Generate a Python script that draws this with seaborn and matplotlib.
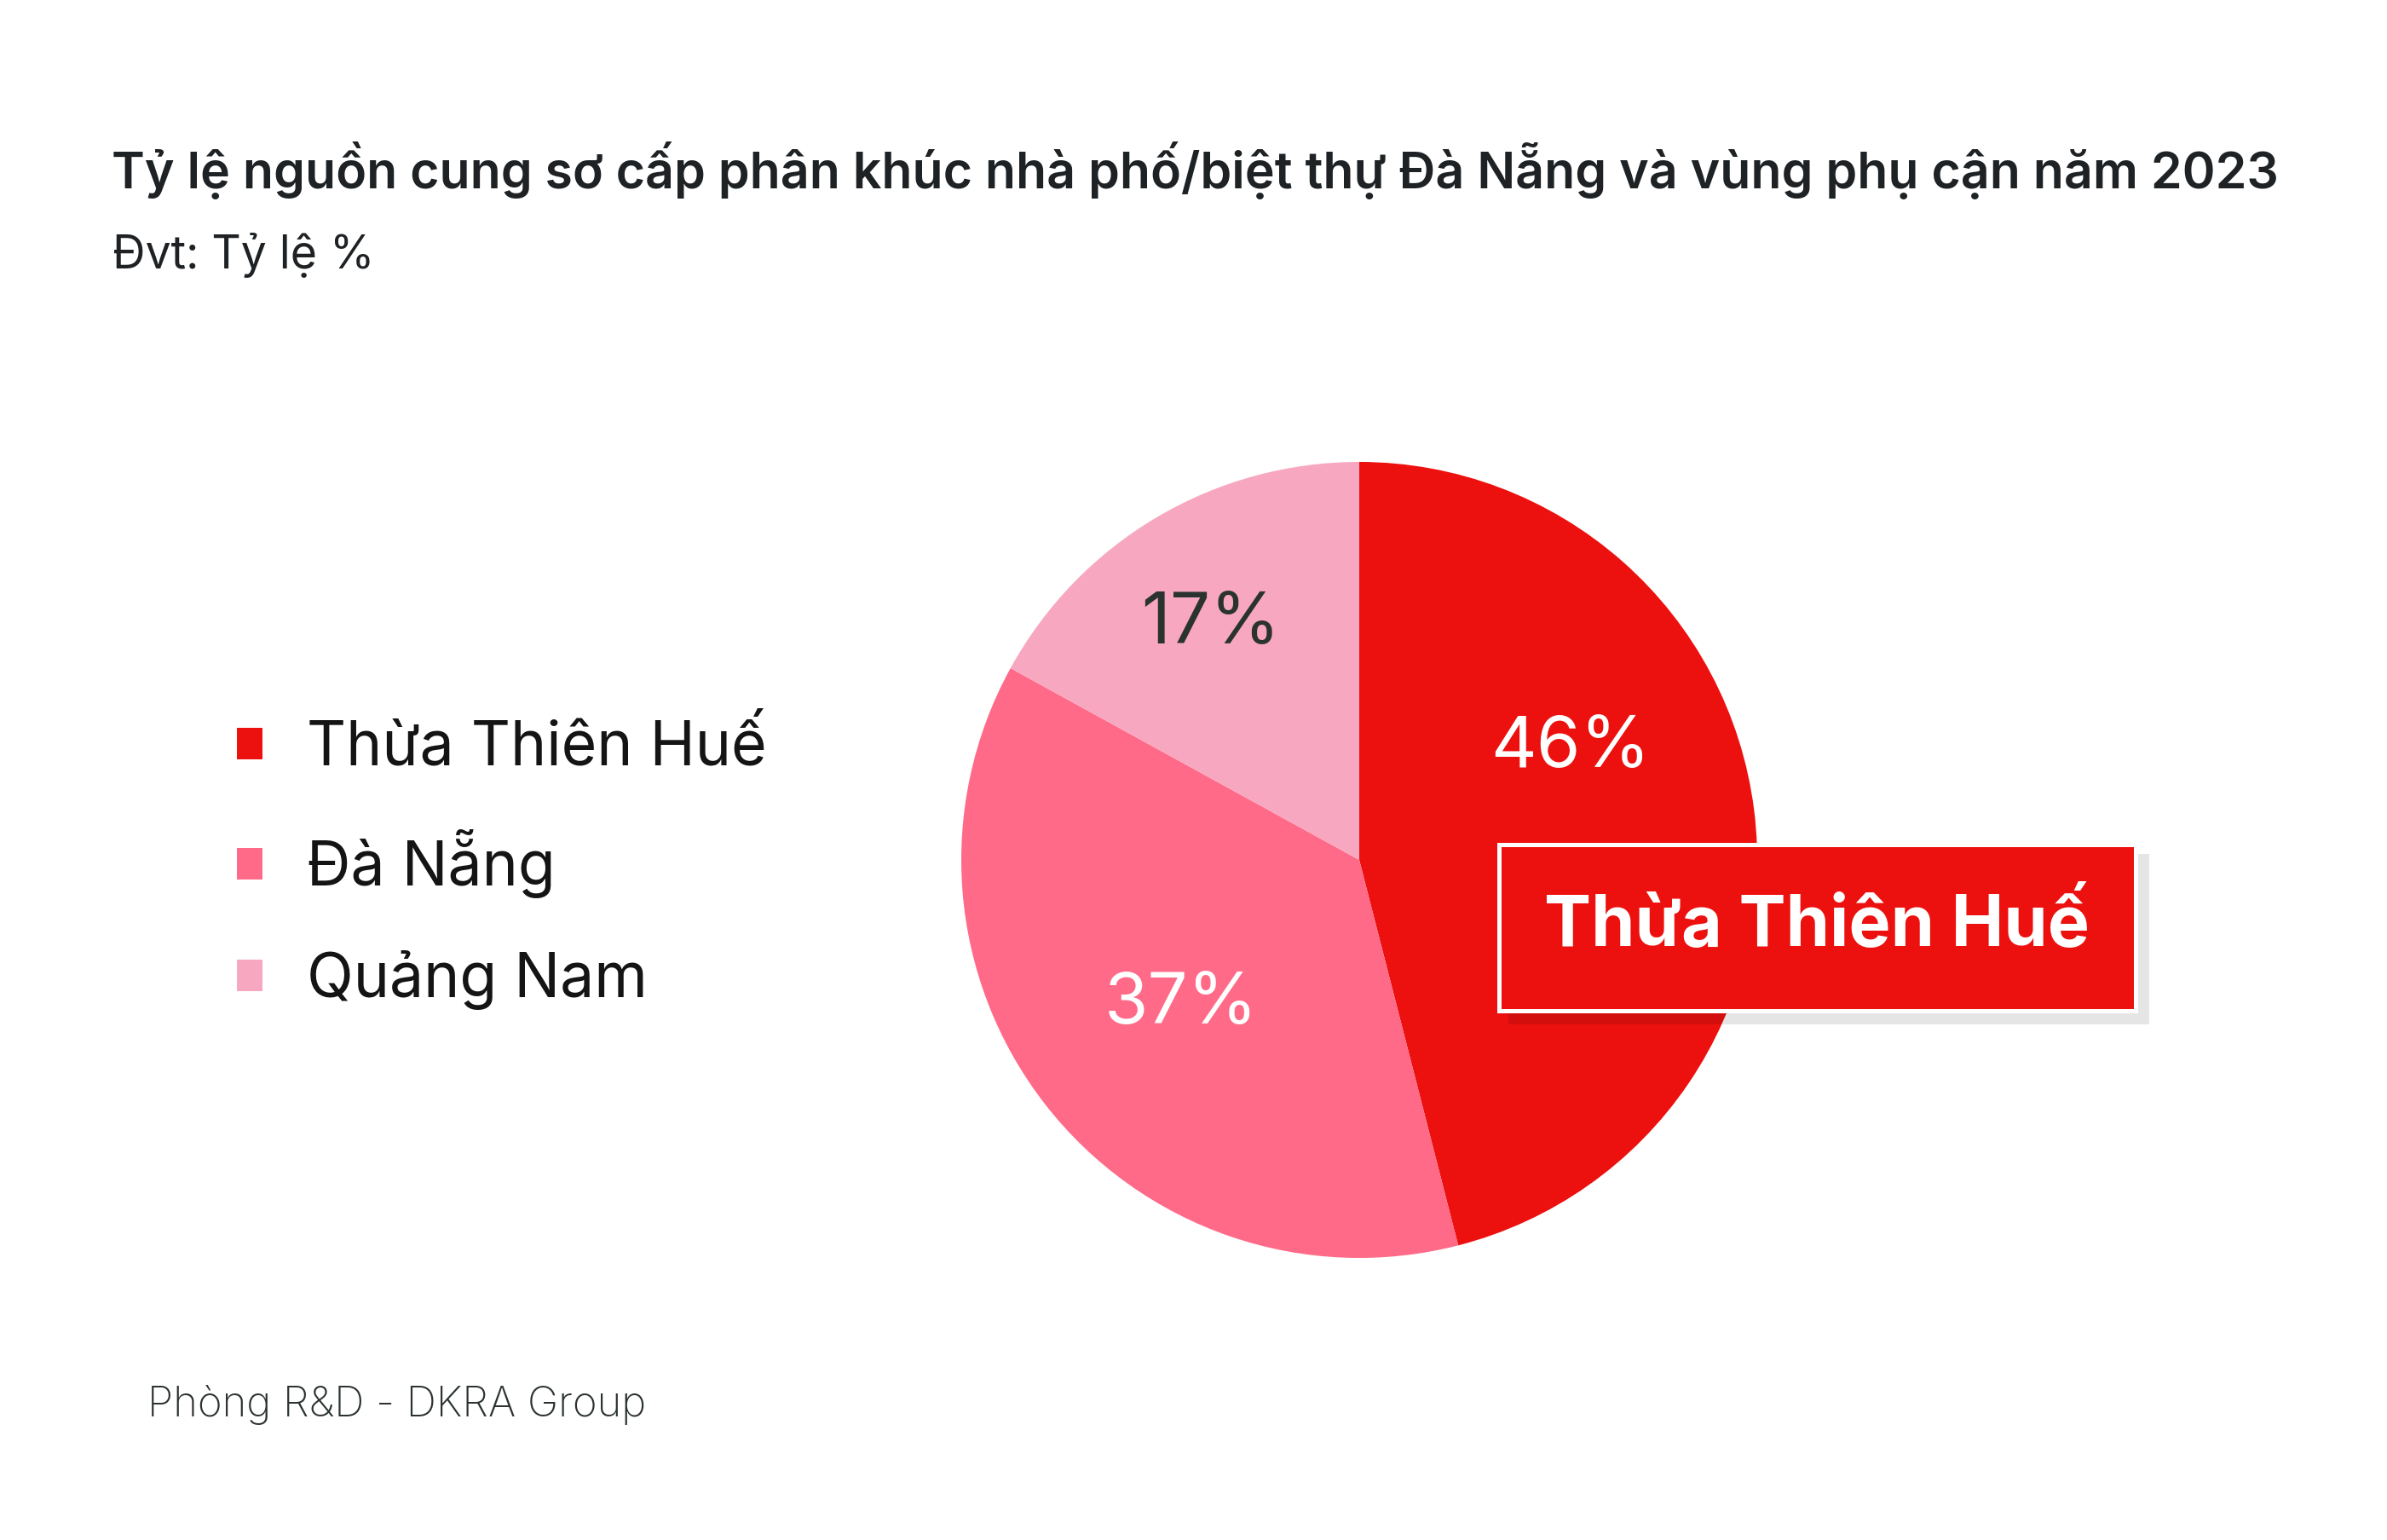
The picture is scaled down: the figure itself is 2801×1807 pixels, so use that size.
import matplotlib
matplotlib.use("Agg")
import matplotlib.pyplot as plt
import seaborn as sns
from matplotlib.patches import Rectangle

# Data
regions = ["Thừa Thiên Huế", "Đà Nẵng", "Quảng Nam"]
shares = [46, 37, 17]
colors = ["#EC110F", "#FF6A88", "#F7A8C0"]
label_colors = ["white", "white", "#2B3331"]

title = "Tỷ lệ nguồn cung sơ cấp phân khúc nhà phố/biệt thự Đà Nẵng và vùng phụ cận năm 2023"
subtitle = "Đvt: Tỷ lệ %"
source = "Phòng R&D - DKRA Group"
callout = "Thừa Thiên Huế"

sns.set_theme(style="white")
plt.rcParams["font.family"] = ["Inter", "DejaVu Sans"]

W, H = 2801, 1807
fig = plt.figure(figsize=(W / 100, H / 100), dpi=100)
fig.patch.set_facecolor("white")

# pie axes: centre (1595, 1009) px, radius 467 px
cx, cy, r = 1595, 1009, 467
ax = fig.add_axes([(cx - r) / W, (H - cy - r) / H, 2 * r / W, 2 * r / H])
wedges, _ = ax.pie(shares, colors=colors, startangle=90, counterclock=False,
                   radius=1, wedgeprops=dict(linewidth=0))
ax.set_xlim(-1, 1)
ax.set_ylim(-1, 1)
ax.set_aspect("equal")
ax.axis("off")

# percentage labels (positions tuned by eye, in pie units)
label_pos = [(0.53, 0.28), (-0.447, -0.363), (-0.374, 0.59)]
for val, (x, y), c in zip(shares, label_pos, label_colors):
    ax.text(x, y, f"{val}%", ha="center", va="center", fontsize=60, color=c)

# titles
fig.text(131 / W, 1 - 200 / H, title, fontsize=42.5, fontweight="semibold",
         color="#1E2224", va="center", ha="left")
fig.text(132 / W, 1 - 300 / H, subtitle, fontsize=38.5, color="#1E2224",
         va="center", ha="left")
fig.text(173 / W, 1 - 1648 / H, source, fontsize=35.3, color="#2B3331",
         va="center", ha="left", fontweight="light")

# legend
leg = fig.legend(wedges, regions, loc="center left",
                 bbox_to_anchor=(242 / W, 1 - 1015 / H), frameon=False,
                 fontsize=51.5, handlelength=0.42, handleheight=0.42,
                 handletextpad=0.73, labelspacing=0.85, borderpad=0)
for t in leg.get_texts():
    t.set_color("#141414")

# callout box with soft shadow
bx0, by0, bx1, by1 = 1756, 988, 2508, 1188
fig.patches.append(Rectangle(((bx0 + 14) / W, 1 - (by1 + 14) / H), (bx1 - bx0) / W,
                             (by1 - by0) / H, transform=fig.transFigure,
                             facecolor="black", alpha=0.1, linewidth=0, zorder=5))
fig.patches.append(Rectangle(((bx0 + 2.5) / W, 1 - (by1 - 2.5) / H), (bx1 - bx0 - 5) / W,
                             (by1 - by0 - 5) / H, transform=fig.transFigure,
                             facecolor=colors[0], edgecolor="white", linewidth=3.6,
                             zorder=6))
fig.text((bx0 + bx1) / 2 / W, 1 - (by0 + by1) / 2 / H, callout, fontsize=59.5,
         fontweight="bold", color="white", ha="center", va="center", zorder=7)

fig.savefig("out.png", dpi=100, facecolor="white")
